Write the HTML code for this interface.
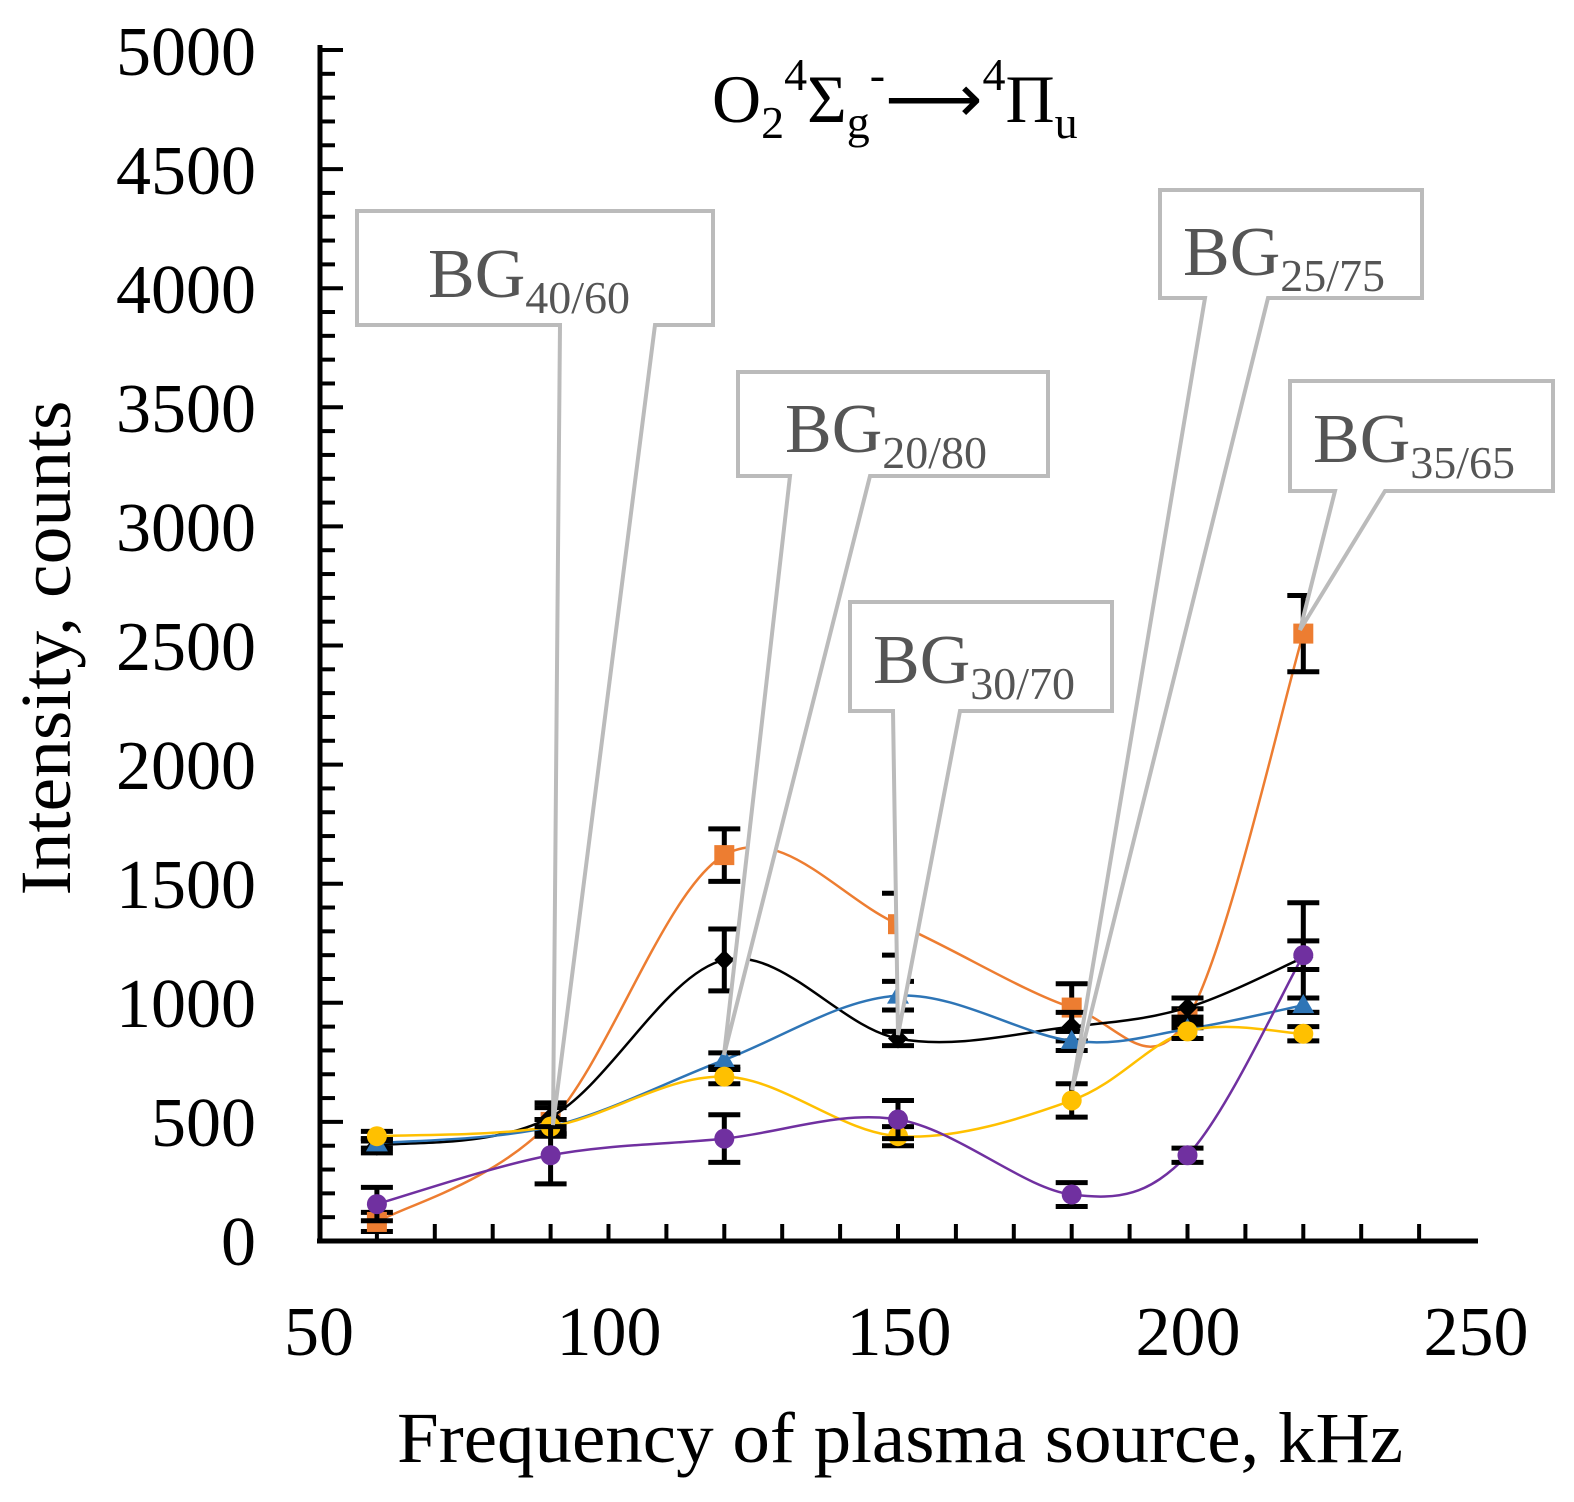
<!DOCTYPE html>
<html><head><meta charset="utf-8"><style>
html,body{margin:0;padding:0;background:#fff;}
svg{display:block;font-family:"Liberation Serif",serif;}
</style></head><body>
<svg id="s" width="1574" height="1502" viewBox="0 0 1574 1502" xmlns="http://www.w3.org/2000/svg">
<rect width="1574" height="1502" fill="#fff"/>
<g id="ticks" stroke="#000" stroke-width="4"></g>
<line x1="320" y1="45" x2="320" y2="1243" stroke="#000" stroke-width="5"/>
<line x1="317" y1="1241" x2="1478" y2="1241" stroke="#000" stroke-width="5"/>
<g font-size="70" text-anchor="end" fill="#000">
<text x="256" y="1265">0</text><text x="256" y="1146">500</text><text x="256" y="1027">1000</text>
<text x="256" y="908">1500</text><text x="256" y="789">2000</text><text x="256" y="670">2500</text>
<text x="256" y="551">3000</text><text x="256" y="432">3500</text><text x="256" y="313">4000</text>
<text x="256" y="194">4500</text><text x="256" y="75">5000</text>
</g>
<g font-size="70" text-anchor="middle" fill="#000">
<text x="319" y="1355">50</text><text x="609" y="1355">100</text><text x="899" y="1355">150</text>
<text x="1188" y="1355">200</text><text x="1476" y="1355">250</text>
<text x="900" y="1462" font-size="72" textLength="1006" lengthAdjust="spacingAndGlyphs">Frequency of plasma source, kHz</text>
<text transform="translate(70,648) rotate(-90)" font-size="72" textLength="495" lengthAdjust="spacingAndGlyphs">Intensity, counts</text>
</g>
<text x="712" y="122" font-size="68" fill="#000">O<tspan font-size="46" dy="16">2</tspan><tspan font-size="46" dy="-48">4</tspan><tspan dy="32">Σ</tspan><tspan font-size="46" dy="16">g</tspan><tspan font-size="46" dy="-48">-</tspan><tspan dy="32">⟶</tspan><tspan font-size="46" dy="-32">4</tspan><tspan dy="32">Π</tspan><tspan font-size="46" dy="16">u</tspan></text>
<g id="series"></g>
<g id="callouts" stroke="#bbb" stroke-width="4" fill="#fff"></g>
<g id="ctext" font-size="70" fill="#555"></g>
</svg>
<script>
var NS="http://www.w3.org/2000/svg";
function el(p,t,a){var e=document.createElementNS(NS,t);for(var k in a)e.setAttribute(k,a[k]);p.appendChild(e);return e;}
function X(v){return 319+(v-50)*5.79;}function Y(v){return 1241-v*0.2382;}
var tk=document.getElementById('ticks');
for(var v=0;v<=5000;v+=100){var L=(v%500==0)?24:16;el(tk,'line',{x1:319,x2:319+L,y1:Y(v),y2:Y(v)});}
for(var f=60;f<250;f+=10){el(tk,'line',{x1:X(f),x2:X(f),y1:1241,y2:1224});}
var xs=[60,90,120,150,180,200,220];
var S=[
{c:'#ed7d31',m:'sq',y:[80,500,1620,1330,980,935,2550],e:[40,60,110,130,100,40,160]},
{c:'#000',m:'di',y:[400,520,1180,850,900,980,1190],e:[30,60,130,30,60,40,230]},
{c:'#2e75b6',m:'tr',y:[410,480,760,1030,840,890,990],e:[20,30,30,60,40,40,30]},
{c:'#ffc000',m:'ci',y:[440,480,690,440,590,880,870],e:[20,30,30,40,70,30,30]},
{c:'#7030a0',m:'ci',y:[155,360,430,510,195,360,1200],e:[70,120,100,80,50,30,60]}
];
var sg=document.getElementById('series');
S.forEach(function(s){
 var P=xs.map(function(x,i){return [X(x),Y(s.y[i])];});
 var d='M'+P[0][0]+','+P[0][1];
 for(var i=0;i<P.length-1;i++){
  var p0=P[Math.max(i-1,0)],p1=P[i],p2=P[i+1],p3=P[Math.min(i+2,P.length-1)];
  var t=0.5/3;
  d+=' C'+(p1[0]+(p2[0]-p0[0])*t)+','+(p1[1]+(p2[1]-p0[1])*t)+' '+(p2[0]-(p3[0]-p1[0])*t)+','+(p2[1]-(p3[1]-p1[1])*t)+' '+p2[0]+','+p2[1];
 }
 el(sg,'path',{d:d,fill:'none',stroke:s.c,'stroke-width':2.5});
 P.forEach(function(p,i){
  var e=s.e[i]*0.2382;
  el(sg,'path',{d:'M'+p[0]+','+(p[1]-e)+'V'+(p[1]+e)+'M'+(p[0]-16)+','+(p[1]-e)+'h32M'+(p[0]-16)+','+(p[1]+e)+'h32',stroke:'#000','stroke-width':5,fill:'none'});
  if(s.m=='sq')el(sg,'rect',{x:p[0]-10,y:p[1]-10,width:20,height:20,fill:s.c});
  else if(s.m=='ci')el(sg,'circle',{cx:p[0],cy:p[1],r:10,fill:s.c});
  else if(s.m=='tr')el(sg,'path',{d:'M'+p[0]+','+(p[1]-11)+'L'+(p[0]+11)+','+(p[1]+8)+'L'+(p[0]-11)+','+(p[1]+8)+'Z',fill:s.c});
  else el(sg,'path',{d:'M'+p[0]+','+(p[1]-10)+'L'+(p[0]+10)+','+p[1]+'L'+p[0]+','+(p[1]+10)+'L'+(p[0]-10)+','+p[1]+'Z',fill:s.c});
 });
});
var C=[
{b:[357,211,713,325],l:[560,655],p:[553,1125],t:'40/60',tx:428,ty:297},
{b:[738,372,1048,476],l:[790,870],p:[724,1055],t:'20/80',tx:785,ty:452},
{b:[850,602,1112,711],l:[893,960],p:[898,1035],t:'30/70',tx:873,ty:683},
{b:[1160,190,1422,298],l:[1205,1268],p:[1072,1090],t:'25/75',tx:1183,ty:275},
{b:[1290,381,1553,491],l:[1335,1385],p:[1300,630],t:'35/65',tx:1313,ty:462}
];
var cg=document.getElementById('callouts'),tg=document.getElementById('ctext');
C.forEach(function(c){
 var b=c.b;
 el(cg,'path',{d:'M'+b[0]+','+b[1]+'H'+b[2]+'V'+b[3]+'H'+c.l[1]+'L'+c.p[0]+','+c.p[1]+'L'+c.l[0]+','+b[3]+'H'+b[0]+'Z','stroke-linejoin':'miter'});
 var t=el(tg,'text',{x:c.tx,y:c.ty});
 t.appendChild(document.createTextNode('BG'));
 var ts=el(t,'tspan',{'font-size':46,dy:16});ts.appendChild(document.createTextNode(c.t));
});
</script>
</body></html>
